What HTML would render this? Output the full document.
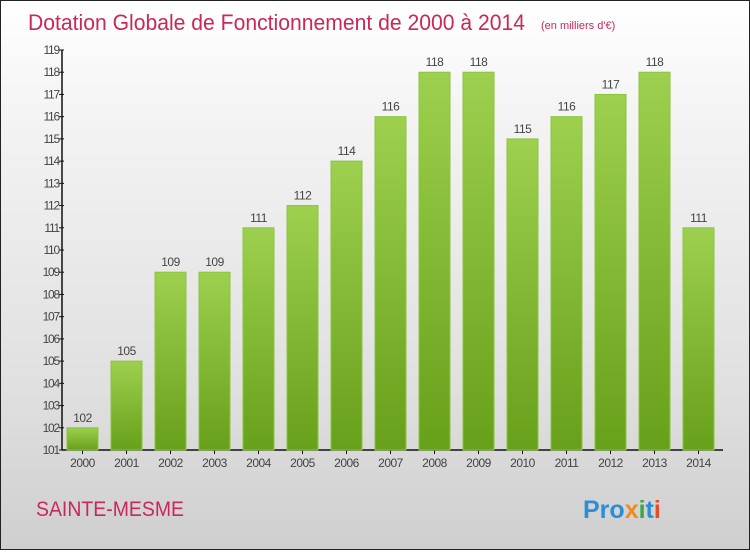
<!DOCTYPE html>
<html><head><meta charset="utf-8"><style>
body{margin:0;width:750px;height:550px;overflow:hidden;font-family:"Liberation Sans",sans-serif}
#c{position:absolute;left:0;top:0;width:748px;height:548px;border:1px solid #222;background:linear-gradient(#fff,#f4f4f4 20%,#e0e0e0 70%,#cfcfcf)}
</style></head><body>
<div id="c">
<svg width="748" height="548" id="s">
<defs><linearGradient id="g" x1="0" y1="0" x2="0" y2="1"><stop offset="0" stop-color="#9dd04e"/><stop offset="1" stop-color="#67a01a"/></linearGradient></defs>
<text x="27" y="29" font-size="22" fill="#c8285a" textLength="497" lengthAdjust="spacingAndGlyphs">Dotation Globale de Fonctionnement de 2000 à 2014</text>
<text x="540" y="28" font-size="11" fill="#c8285a">(en milliers d'€)</text>
<text x="35" y="515" font-size="21" fill="#c8285a" textLength="148" lengthAdjust="spacingAndGlyphs">SAINTE-MESME</text>
<text x="582" y="517" font-size="25" font-weight="bold"><tspan fill="#2a8fd6">Pro</tspan><tspan fill="#f08a1c">x</tspan><tspan fill="#3aa84a">i</tspan><tspan fill="#2a8fd6">t</tspan><tspan fill="#e84a2a">i</tspan></text>
<g id="ax"></g><g id="bars"></g>
</svg></div>
<script>
const years=["2000","2001","2002","2003","2004","2005","2006","2007","2008","2009","2010","2011","2012","2013","2014"];
const values=[102,105,109,109,111,112,114,116,118,118,115,116,117,118,111];
const ticks=[101,102,103,104,105,106,107,108,109,110,111,112,113,114,115,116,117,118,119];
const NS="http://www.w3.org/2000/svg";
const y0=449,y1=49,vmin=101,vmax=119;
const Y=v=>y0-(v-vmin)*(y0-y1)/(vmax-vmin);
const X=i=>66+i*44;
function el(t,a,p){const e=document.createElementNS(NS,t);for(const k in a)e.setAttribute(k,a[k]);p.appendChild(e);return e;}
const ax=document.getElementById('ax'),bg=document.getElementById('bars');
let l=el('line',{x1:61,y1:y1,x2:61,y2:y0,stroke:'#111','stroke-width':1.5},ax);


l=el('line',{x1:61,y1:y0,x2:722,y2:y0,stroke:'#111','stroke-width':1.5},ax);


ticks.forEach(t=>{
 const y=Y(t);
 const tk=el('line',{x1:58,y1:y,x2:63,y2:y,stroke:'#111'},ax);
 
 
 const tx=el('text',{x:58,y:y+4,'font-size':12,fill:'#444','text-anchor':'end','letter-spacing':'-1.2'},ax);
 tx.textContent=t;
 
 
});
years.forEach((yr,i)=>{
 const x=X(i),v=values[i];
 const r=el('rect',{x:x,y:Y(v),width:31,height:y0-Y(v),fill:'url(#g)',stroke:'#8cc440','stroke-width':1},bg);
 
 
 const vl=el('text',{x:x+15.5,y:Y(v)-6,'font-size':12,fill:'#444','text-anchor':'middle','letter-spacing':'-0.5'},bg);
 vl.textContent=v;
 
 
 const xl=el('text',{x:x+15.5,y:466,'font-size':12,fill:'#444','text-anchor':'middle','letter-spacing':'-0.5'},bg);
 xl.textContent=yr;
 
 
 const xt=el('line',{x1:x+15.5,y1:y0,x2:x+15.5,y2:y0+4,stroke:'#111'},ax);
 
 
});
</script>
</body></html>
